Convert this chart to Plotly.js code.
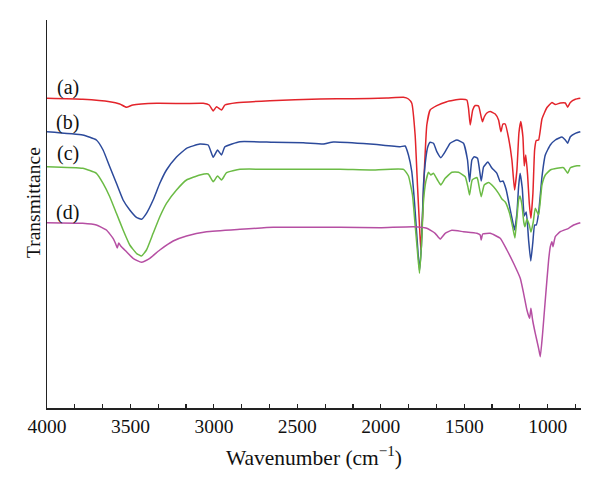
<!DOCTYPE html>
<html>
<head>
<meta charset="utf-8">
<script src="https://cdn.plot.ly/plotly-3.0.1.min.js"></script>
<style>html,body{margin:0;padding:0;background:#fff;}#chart{width:600px;height:493px;}</style>
</head>
<body>
<div id="chart"></div>
<script>
// Wavenumber (cm^-1) and transmittance (arbitrary units)
const seriesNames = ["(a)", "(b)", "(c)", "(d)"];

const waveA = [4000,3786,3624,3564,3524,3486,3342,3174,3064,3028,3004,2984,2954,2934,2864,2664,2364,2164,1964,1864,1834,1814,1794,1780,1768,1760,1750,1738,1724,1704,1664,1604,1524,1484,1474,1464,1449,1434,1414,1398,1390,1380,1364,1344,1314,1294,1280,1268,1254,1234,1214,1198,1184,1172,1161,1148,1140,1131,1120,1110,1100,1088,1078,1068,1054,1034,1004,974,954,924,894,880,864,834,804];
const transA = [309.7,308.7,306.3,304,300.7,303,304.7,304.5,304.7,303,297,301.3,298,303,305.3,307.3,309,309.3,310,310.7,309,304.7,273,223,183,158,190,240,283,298,302.3,306.3,308.7,308,299.7,283,298,302.5,302,291,286.3,291,295,296.5,294,288,276.3,284,284,270,248,218,238,275,286.5,271,242,253,233,205,189.7,215,258,267.5,268,289,300.5,305.5,303.5,305,305,300.8,305.5,308.7,309.7];

const waveB = [4000,3786,3704,3664,3624,3584,3544,3504,3464,3434,3404,3364,3324,3284,3224,3164,3084,3034,3004,2978,2954,2934,2844,2644,2464,2344,2284,2064,1884,1854,1834,1814,1798,1784,1768,1756,1744,1730,1718,1704,1684,1664,1640,1614,1584,1544,1504,1480,1468,1454,1440,1420,1398,1384,1358,1334,1304,1284,1268,1248,1224,1209,1198,1184,1174,1165,1152,1140,1128,1114,1101,1089,1078,1068,1054,1034,1014,984,954,914,894,880,864,834,804];
const transB = [276.3,273,268,258,241.3,224.7,208,198,190.7,188.7,194.7,208,224.7,238,251,259.7,264,263,250.7,258,253,261.3,266.3,265.7,265.3,264,266,264,261.3,262,253,236.3,206.3,173,138,163,223,249.7,261.3,265.7,264.7,256.3,250.3,256.3,264.7,268,264.7,248,226.3,248,251.3,249.7,227,241,246,240,234.7,226.3,227,218,198,186,178,194.7,221.3,234.7,220,192,196,168,147,165,183,183,195,231,253,263,268,271,268,264.7,271.3,274.7,276.3];

const waveC = [4000,3786,3704,3664,3624,3584,3544,3504,3464,3434,3404,3364,3324,3284,3224,3164,3084,3034,3004,2978,2954,2924,2844,2644,2244,2064,1864,1834,1810,1794,1780,1768,1756,1744,1730,1714,1700,1684,1660,1640,1614,1574,1534,1494,1478,1468,1452,1424,1418,1398,1380,1354,1324,1294,1274,1254,1228,1210,1196,1185,1174,1165,1154,1143,1136,1124,1110,1100,1086,1074,1054,1034,1014,984,944,904,880,864,824,804];
const transC = [241.3,239.7,234.7,224.7,211.3,194.7,178,163,154.7,152,158,174.7,191.3,204.7,218,228,233,234,226.3,232,228,235.3,238.7,238.7,238.7,238,238.7,232,213,183,156.3,134.7,163,206.3,226.3,235.7,233,234.7,228,223,229.7,235.7,235.7,231.3,221.3,213,228,230.5,228,211.3,223,225.5,221.3,214.7,209,206,194.7,181.3,170,188,208,212,203,186,181.3,189,183,176,186,199.7,193,223,233,238,239.7,240.3,234.7,240.3,242.3,242.3];

const waveD = [4000,3786,3704,3644,3604,3588,3579,3570,3558,3524,3484,3434,3384,3324,3244,3164,3044,2844,2644,2244,2004,1804,1724,1674,1644,1614,1574,1504,1424,1404,1398,1389,1344,1284,1244,1204,1164,1144,1124,1108,1100,1090,1074,1054,1044,1030,1014,994,984,974,968,954,924,874,844,804];
const transD = [185.3,184.7,183,178,169.7,164,160,165,162,156.3,149.7,145.7,149.7,158,167,172,176.3,178.7,180.7,180.7,180.3,181.3,179.7,174.7,169,174.7,177.7,176.3,174.7,173,168,174,174.7,169.7,158,144.7,129.7,114.7,98,89.7,99.7,88,74.7,59.7,51.3,74.7,108,148,161.3,166.3,161.3,171.3,176.3,179.7,183,185.3];

// label anchor points (wavenumber, transmittance)
const labelWave = [3876, 3876, 3876, 3876];
const labelTrans = [321, 286, 255, 196];

const xTickVals = [4000, 3500, 3000, 2500, 2000, 1500, 1000];
const xTickText = ["4000", "3500", "3000", "2500", "2000", "1500", "1000"];

const colors = ["#e3242b", "#2c4a9b", "#6bbb45", "#b64fa3"];
const waves = [waveA, waveB, waveC, waveD];
const trans = [transA, transB, transC, transD];

const serif = "Liberation Serif, Times New Roman, serif";

const traces = waves.map((w, i) => ({
  x: w, y: trans[i], type: "scatter", mode: "lines",
  name: seriesNames[i],
  line: {color: colors[i], width: 1.5, shape: "spline", smoothing: 0.4},
  hoverinfo: "skip"
}));

const annotations = seriesNames.map((n, i) => ({
  x: labelWave[i], y: labelTrans[i], xref: "x", yref: "y",
  text: n, showarrow: false, xanchor: "center", yanchor: "middle",
  font: {family: serif, size: 20, color: "#111"}
}));
annotations.push({
  xref: "paper", yref: "paper", x: -0.025, y: 0.53,
  text: "Transmittance", textangle: -90, showarrow: false,
  xanchor: "center", yanchor: "middle",
  font: {family: serif, size: 19.5, color: "#111"}
});

const layout = {
  width: 600, height: 493,
  margin: {l: 47, r: 19, t: 20, b: 85},
  paper_bgcolor: "#fff", plot_bgcolor: "#fff",
  showlegend: false,
  xaxis: {
    range: [4000, 800], autorange: false,
    showline: true, linecolor: "#222", linewidth: 1.5, mirror: false,
    showgrid: false, zeroline: false,
    ticks: "inside", ticklen: 4, tickwidth: 1.2, tickcolor: "#222",
    tickmode: "array", tickvals: xTickVals, ticktext: xTickText,
    minor: {dtick: 500/3, tick0: 1000, ticks: "inside", ticklen: 4, tickwidth: 1.2, tickcolor: "#222", showgrid: false},
    tickfont: {family: serif, size: 19.5, color: "#111"},
    title: {text: "Wavenumber (cm<sup>−1</sup>)", font: {family: serif, size: 21.5, color: "#111"}, standoff: 14}
  },
  yaxis: {
    range: [0, 388], autorange: false,
    showline: true, linecolor: "#222", linewidth: 1.5,
    showgrid: false, zeroline: false, ticks: "", showticklabels: false
  },
  annotations: annotations
};

Plotly.newPlot("chart", traces, layout, {displayModeBar: false, staticPlot: true});
</script>
</body>
</html>
